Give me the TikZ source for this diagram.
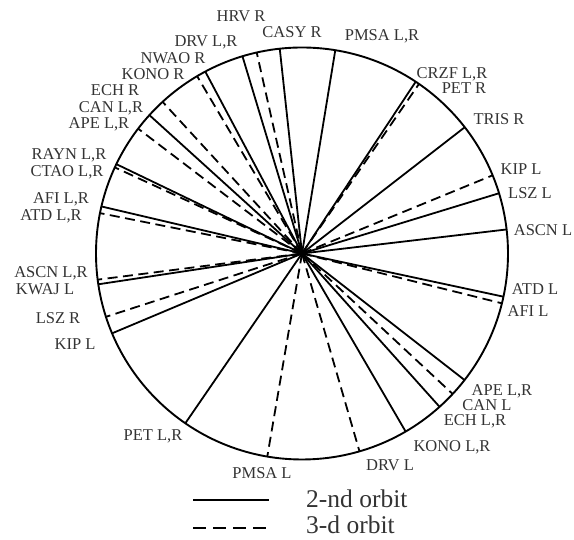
\documentclass[tikz,border=0pt]{standalone}
\usepackage{fontspec}
\setmainfont{Liberation Serif}
\usetikzlibrary{calc}
\definecolor{labelgray}{HTML}{333333}
\begin{document}
\begin{tikzpicture}[x=1pt,y=1pt,
  orbittwo/.style={line width=1.8pt,black},
  orbitthree/.style={line width=1.8pt,black,dash pattern=on 10pt off 5.5pt},
  stlabel/.style={inner sep=0pt,text=labelgray,font=\fontsize{16.5}{18}\selectfont},
  legtext/.style={inner sep=0pt,anchor=base west,text=labelgray,font=\fontsize{25.5}{28}\selectfont}]
\useasboundingbox (0,0) rectangle (574,540);
\coordinate (H) at (302,286.5);
\def\R{206}
% end points on the rim
\foreach \n/\a in {e1/96.2,e2/102.7,e3/106.8,e4/118.0,e5/120.6,e6/132.6,e7/137.8,e8/142.7,
  e9/154.3,e10/155.3,e11/166.8,e12/168.7,e13/187.3,e14/188.6,e15/197.9,e16/202.8,
  e17/235.5,e18/260.3,e19/286.2,e20/300.2,e21/311.9,e22/317.0,e23/322.1,e24/346.0,
  e25/347.9,e26/6.7,e27/17.0,e28/22.3,e29/37.8,e30/55.4,e31/56.5,e32/80.7}
  {\coordinate (\n) at ($(H)+(\a:\R)$);}
% 2-nd orbit (solid)
\foreach \n in {e1,e3,e4,e7,e9,e11,e14,e16,e17,e20,e21,e23,e25,e26,e27,e29,e31,e32}
  {\draw[orbittwo] (H) -- (\n);}
% 3-d orbit (dashed)
\foreach \n in {e2,e5,e6,e8,e10,e12,e13,e15,e18,e19,e22,e24,e28,e30}
  {\draw[orbitthree] (H) -- (\n);}
\draw[line width=1.9pt] (H) circle (\R);
% labels
\node[stlabel] (l1) at (241,524) {HRV R};
\node[stlabel] (l2) at (292,508) {CASY R};
\node[stlabel] (l3) at (382,504) {PMSA L,R};
\node[stlabel] (l4) at (452,466) {CRZF L,R};
\node[stlabel] (l5) at (464,452) {PET R};
\node[stlabel] (l6) at (499,421) {TRIS R};
\node[stlabel] (l7) at (521,371) {KIP L};
\node[stlabel] (l8) at (530,347) {LSZ L};
\node[stlabel] (l9) at (543,310) {ASCN L};
\node[stlabel] (l10) at (535,251) {ATD L};
\node[stlabel] (l11) at (528,229) {AFI L};
\node[stlabel] (l12) at (502,149) {APE L,R};
\node[stlabel] (l13) at (487,135) {CAN L};
\node[stlabel] (l14) at (475,119) {ECH L,R};
\node[stlabel] (l15) at (452,93) {KONO L,R};
\node[stlabel] (l16) at (390,75) {DRV L};
\node[stlabel] (l17) at (262,67) {PMSA L};
\node[stlabel] (l18) at (153,104) {PET L,R};
\node[stlabel] (l19) at (75,196) {KIP L};
\node[stlabel] (l20) at (58,222) {LSZ R};
\node[stlabel] (l21) at (45,251) {KWAJ L};
\node[stlabel] (l22) at (51,267) {ASCN L,R};
\node[stlabel] (l23) at (51,324) {ATD L,R};
\node[stlabel] (l24) at (61,341) {AFI L,R};
\node[stlabel] (l25) at (67,368) {CTAO L,R};
\node[stlabel] (l26) at (69,385) {RAYN L,R};
\node[stlabel] (l27) at (99,416) {APE L,R};
\node[stlabel] (l28) at (111,432) {CAN L,R};
\node[stlabel] (l29) at (115,450) {ECH R};
\node[stlabel] (l30) at (153,466) {KONO R};
\node[stlabel] (l31) at (173,482) {NWAO R};
\node[stlabel] (l32) at (206,498) {DRV L,R};
% legend
\coordinate (ls1) at (193,40);
\coordinate (ls2) at (269,40);
\coordinate (ld1) at (193,12);
\coordinate (ld2) at (269,12);
\draw[orbittwo] (ls1) -- (ls2);
\draw[line width=1.8pt,dash pattern=on 13pt off 7pt] (ld1) -- (ld2);
\node[legtext] (t2) at (306,32) {2-nd orbit};
\node[legtext] (t3) at (306,6) {3-d orbit};
\end{tikzpicture}
\end{document}
